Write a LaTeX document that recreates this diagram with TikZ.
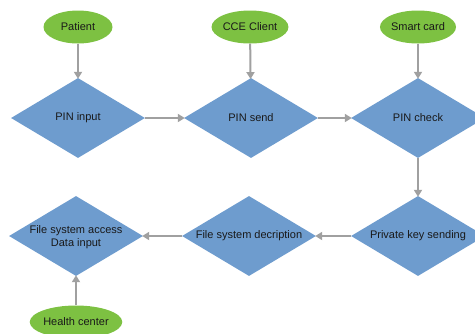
\documentclass[tikz,border=0pt]{standalone}
\usepackage{fontspec}
\setmainfont{Liberation Sans}
\usetikzlibrary{shapes.geometric,arrows.meta}
\definecolor{actorgreen}{RGB}{125,193,66}
\definecolor{stepblue}{RGB}{110,156,206}
\definecolor{flowgray}{RGB}{160,160,160}
\definecolor{txt}{RGB}{25,25,25}
\tikzset{
  actor/.style={ellipse, fill=actorgreen, minimum width=69pt, minimum height=33pt, inner sep=0pt, font=\fontsize{11}{13}\selectfont, text=txt},
  stepbox/.style={diamond, fill=stepblue, aspect=1.675, minimum width=134pt, minimum height=80pt, inner sep=0pt, font=\fontsize{11}{13}\selectfont, text=txt, align=center},
  flow/.style={draw=flowgray, line width=2pt, -{Triangle[length=7pt,width=8pt]}, shorten >=-1pt}
}
\begin{document}
\begin{tikzpicture}[x=1pt,y=-1pt]
\useasboundingbox (0,0) rectangle (475,333);
\node[actor] (patient) at (78,27) {Patient};
\node[actor] (cce) at (250,27) {CCE Client};
\node[actor] (smart) at (418,27) {Smart card};
\node[stepbox] (pinin) at (78,118) {PIN input};
\node[stepbox] (pinsend) at (251,118) {PIN send};
\node[stepbox] (pincheck) at (418,118) {PIN check};
\node[stepbox] (pks) at (418,236) {Private key sending};
\node[stepbox] (fsd) at (249,236) {File system decription};
\node[stepbox] (fsa) at (76,236) {\smash{\raisebox{-4pt}{\begin{tabular}{@{}c@{}}File system access\\Data input\end{tabular}}}};
\node[actor, minimum width=80pt] (health) at (76,322) {Health center};
\draw[flow] (patient) -- (pinin);
\draw[flow] (cce) -- (pinsend);
\draw[flow] (smart) -- (pincheck);
\draw[flow] (pinin) -- (pinsend);
\draw[flow] (pinsend) -- (pincheck);
\draw[flow] (pincheck) -- (pks);
\draw[flow] (pks) -- (fsd);
\draw[flow] (fsd) -- (fsa);
\draw[flow] (health) -- (fsa);
\end{tikzpicture}
\end{document}
